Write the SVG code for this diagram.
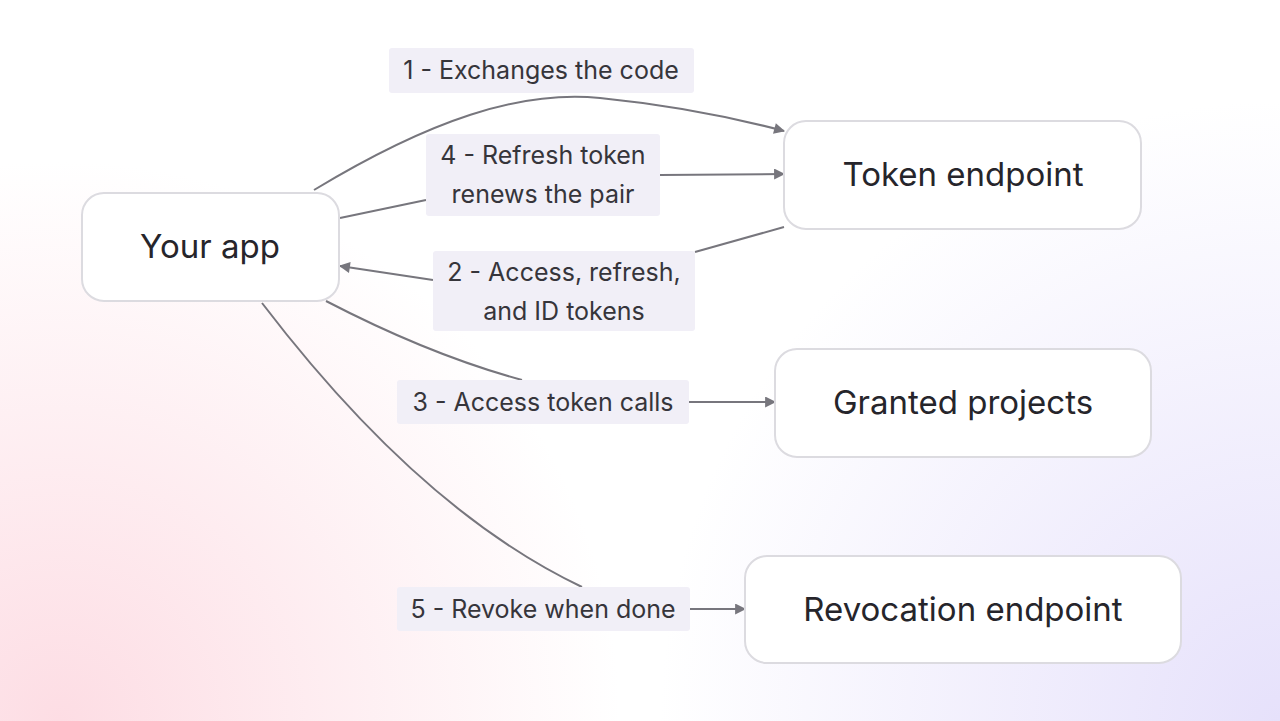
<svg xmlns="http://www.w3.org/2000/svg" width="1280" height="721" viewBox="0 0 1280 721">
<defs>
<radialGradient id="pink" cx="60" cy="721" r="560" gradientUnits="userSpaceOnUse"><stop offset="0" stop-color="#fddde4"/><stop offset="1" stop-color="#fddde4" stop-opacity="0"/></radialGradient>
<radialGradient id="lav" cx="1280" cy="721" r="620" gradientUnits="userSpaceOnUse"><stop offset="0" stop-color="#e6e1fb"/><stop offset="1" stop-color="#e6e1fb" stop-opacity="0"/></radialGradient>
<marker id="ah" viewBox="0 0 10 10" refX="9" refY="5" markerWidth="13" markerHeight="11" markerUnits="userSpaceOnUse" orient="auto"><path d="M0,0 L10,5 L0,10 z" fill="#77767d"/></marker>
<style>
.n{fill:#fff;stroke:#dcdbe0;stroke-width:2}
.nt{font-family:Inter,"Noto Sans",sans-serif;font-size:33px;fill:#26252b;text-anchor:middle;dominant-baseline:central}
.lb{fill:#f1eff7}
.lt{font-family:Inter,"Noto Sans",sans-serif;font-size:25px;fill:#36353b;text-anchor:middle;dominant-baseline:central}
.e{fill:none;stroke:#77767d;stroke-width:2}
</style>
</defs>
<rect width="1280" height="721" fill="#fff"/>
<rect width="1280" height="721" fill="url(#pink)"/>
<rect width="1280" height="721" fill="url(#lav)"/>
<g id="connectors">
<path class="e" d="M314,190 C430,120 520,90 600,98 C660,104 720,114 784,131" marker-end="url(#ah)"/>
<path class="e" d="M340,218 L426,200"/><path class="e" d="M660,175 L784,174" marker-end="url(#ah)"/>
<path class="e" d="M784,227 L695,252"/><path class="e" d="M433,280 L340,266" marker-end="url(#ah)"/>
<path class="e" d="M326,301 Q430,355 522,380"/><path class="e" d="M689,402 L775,402" marker-end="url(#ah)"/>
<path class="e" d="M262,303 Q420,510 582,587"/><path class="e" d="M690,609 L745,609" marker-end="url(#ah)"/>
</g>
<g id="labels">
<rect class="lb" x="389" y="48" width="305" height="45" rx="3"/><text class="lt" x="541" y="70">1 - Exchanges the code</text>
<rect class="lb" x="426" y="134" width="234" height="82" rx="3"/><text class="lt" x="543" y="155">4 - Refresh token</text><text class="lt" x="543" y="194">renews the pair</text>
<rect class="lb" x="433" y="251" width="262" height="80" rx="3"/><text class="lt" x="564" y="272">2 - Access, refresh,</text><text class="lt" x="564" y="311">and ID tokens</text>
<rect class="lb" x="397" y="380" width="292" height="44" rx="3"/><text class="lt" x="543" y="402">3 - Access token calls</text>
<rect class="lb" x="397" y="587" width="293" height="44" rx="3"/><text class="lt" x="543" y="609">5 - Revoke when done</text>
</g>
<g id="your-app"><rect class="n" x="82" y="193" width="257" height="108" rx="22"/><text class="nt" x="210" y="246">Your app</text></g>
<g id="token-endpoint"><rect class="n" x="784" y="121" width="357" height="108" rx="22"/><text class="nt" x="963" y="174">Token endpoint</text></g>
<g id="granted-projects"><rect class="n" x="775" y="349" width="376" height="108" rx="22"/><text class="nt" x="963" y="402">Granted projects</text></g>
<g id="revocation-endpoint"><rect class="n" x="745" y="556" width="436" height="107" rx="22"/><text class="nt" x="963" y="609">Revocation endpoint</text></g>
</svg>
